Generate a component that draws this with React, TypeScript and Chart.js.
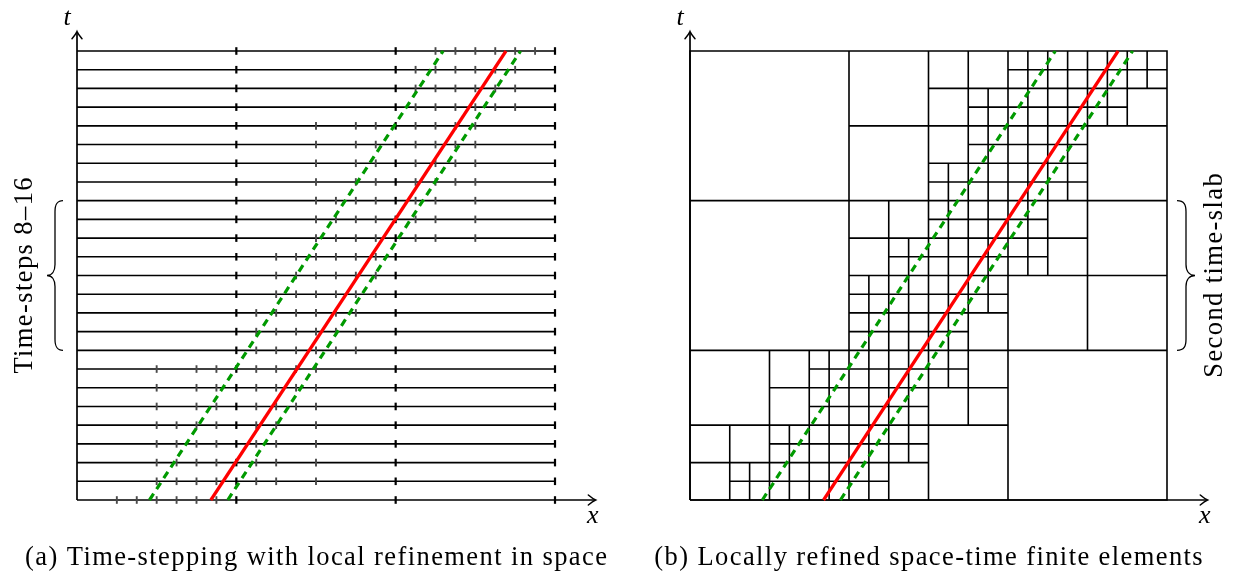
import React, { useEffect, useRef } from "react";
import { Chart, registerables } from "chart.js";

Chart.register(...registerables);

// ---------------- data (x in space cells, t in time-steps) ----------------
const X_MAX = 24;
const T_MAX = 24;
const AXIS_X_END = 26;
const AXIS_T_END = 25;

const TIME_LEVELS = [0, 1, 2, 3, 4, 5, 6, 7, 8, 9, 10, 11, 12, 13, 14, 15, 16, 17, 18, 19, 20, 21, 22, 23, 24];
const COARSE_NODES = [8, 16, 24];
// refined spatial nodes on each time level (index = time level)
const FINE_NODES: number[][] = [
  [2, 3, 4, 5, 6, 7],
  [4, 5, 6, 7, 9, 10, 12],
  [4, 5, 6, 7, 9, 10, 12],
  [4, 5, 6, 7, 9, 10, 12],
  [4, 5, 6, 7, 9, 10, 12],
  [4, 6, 7, 9, 10, 11, 12],
  [4, 6, 7, 9, 10, 11, 12],
  [4, 6, 7, 9, 10, 11, 12],
  [9, 10, 11, 12, 13, 14],
  [9, 10, 11, 12, 13, 14],
  [9, 10, 11, 12, 13, 14],
  [10, 11, 12, 13, 14, 15],
  [10, 11, 12, 13, 14, 15],
  [10, 11, 12, 13, 14, 15],
  [12, 13, 14, 15, 17, 18, 20],
  [12, 13, 14, 15, 17, 18, 20],
  [12, 13, 14, 15, 17, 18, 20],
  [12, 14, 15, 17, 18, 19, 20],
  [12, 14, 15, 17, 18, 19, 20],
  [12, 14, 15, 17, 18, 19, 20],
  [12, 14, 15, 17, 18, 19, 20],
  [17, 18, 19, 20, 21, 22],
  [17, 18, 19, 20, 21, 22],
  [17, 18, 19, 20, 21, 22],
  [18, 19, 20, 21, 22, 23],
];

// front (red) and refinement band (green dashed): x at t = 0 and t = 24
const LINE_T = [0, 24];
const FRONT_X = [6.72, 21.54];
const BAND_LEFT_X = [3.64, 18.38];
const BAND_RIGHT_X = [7.57, 22.27];

// space-time cells [x, t] by size
const CELLS_8 = [[16, 0], [0, 8], [0, 16]];
const CELLS_4 = [[0, 4], [12, 0], [16, 8], [20, 8], [20, 12], [8, 16], [8, 20], [20, 16]];
const CELLS_2 = [
  [0, 0], [10, 0], [0, 2], [2, 2], [4, 4], [4, 6], [12, 4], [14, 4], [14, 6], [14, 8],
  [8, 12], [8, 14], [10, 14], [18, 12], [18, 14], [12, 18], [12, 20], [12, 22], [14, 22], [22, 20],
];
// unit cells: x positions for each time row t = 0..23
const CELLS_1: number[][] = [
  [2, 3, 4, 5, 6, 7, 8, 9],
  [2, 3, 4, 5, 6, 7, 8, 9],
  [4, 5, 6, 7, 8, 9, 10, 11],
  [4, 5, 6, 7, 8, 9, 10, 11],
  [6, 7, 8, 9, 10, 11],
  [6, 7, 8, 9, 10, 11],
  [6, 7, 8, 9, 10, 11, 12, 13],
  [6, 7, 8, 9, 10, 11, 12, 13],
  [8, 9, 10, 11, 12, 13],
  [8, 9, 10, 11, 12, 13],
  [8, 9, 10, 11, 12, 13, 14, 15],
  [8, 9, 10, 11, 12, 13, 14, 15],
  [10, 11, 12, 13, 14, 15, 16, 17],
  [10, 11, 12, 13, 14, 15, 16, 17],
  [12, 13, 14, 15, 16, 17],
  [12, 13, 14, 15, 16, 17],
  [12, 13, 14, 15, 16, 17, 18, 19],
  [12, 13, 14, 15, 16, 17, 18, 19],
  [14, 15, 16, 17, 18, 19],
  [14, 15, 16, 17, 18, 19],
  [14, 15, 16, 17, 18, 19, 20, 21],
  [14, 15, 16, 17, 18, 19, 20, 21],
  [16, 17, 18, 19, 20, 21, 22, 23],
  [16, 17, 18, 19, 20, 21, 22, 23],
];

const BRACE_T = [8, 16];
const CAPTION_A = "(a) Time-stepping with local refinement in space";
const CAPTION_B = "(b) Locally refined space-time finite elements";
const BRACE_LABEL_A = "Time-steps 8\u201316";
const BRACE_LABEL_B = "Second time-slab";

// ---------------- styling ----------------
const RED = "#ff0000";
const GREEN = "#009a00";
const SERIF = '"Liberation Serif", "DejaVu Serif", serif';
const TEXT_SIZE = 26.5;
const ITALIC = 'italic 26px "Liberation Serif", serif';

type P = { x: number; y: number };
const GAP: P = { x: NaN, y: NaN };

function lineDs(data: P[], color: string, width: number, dash: number[] = []): any {
  return {
    data,
    showLine: true,
    borderColor: color,
    borderWidth: width,
    borderDash: dash,
    borderCapStyle: "butt",
    borderJoinStyle: "miter",
    pointRadius: 0,
    pointHoverRadius: 0,
    fill: false,
    tension: 0,
    spanGaps: false,
    clip: false,
  };
}

function frontDatasets(): any[] {
  const mk = (xs: number[]) => xs.map((x, i) => ({ x, y: LINE_T[i] }));
  return [
    lineDs(mk(FRONT_X), RED, 3.2),
    lineDs(mk(BAND_LEFT_X), GREEN, 3.2, [7.5, 5.5]),
    lineDs(mk(BAND_RIGHT_X), GREEN, 3.2, [7.5, 5.5]),
  ];
}

function axisDatasets(): any[] {
  return [
    lineDs([{ x: 0, y: 0 }, { x: AXIS_X_END, y: 0 }], "#000", 1.7),
    lineDs([{ x: 0, y: 0 }, { x: 0, y: AXIS_T_END }], "#000", 1.7),
  ];
}

function arrowHead(ctx: CanvasRenderingContext2D, x: number, y: number, ang: number) {
  ctx.save();
  ctx.translate(x, y);
  ctx.rotate(ang);
  ctx.beginPath();
  ctx.moveTo(-6.5, -5);
  ctx.quadraticCurveTo(-2, -1.2, 0.8, 0);
  ctx.quadraticCurveTo(-2, 1.2, -6.5, 5);
  ctx.lineWidth = 1.5;
  ctx.strokeStyle = "#000";
  ctx.lineCap = "round";
  ctx.stroke();
  ctx.restore();
}

function brace(ctx: CanvasRenderingContext2D, x: number, yTop: number, yBot: number, w: number) {
  const h = w / 2;
  const ym = (yTop + yBot) / 2;
  ctx.save();
  ctx.beginPath();
  ctx.moveTo(x, yTop);
  ctx.bezierCurveTo(x + h * 0.8, yTop, x + h, yTop + 4, x + h, yTop + 11);
  ctx.lineTo(x + h, ym - 11);
  ctx.bezierCurveTo(x + h, ym - 4, x + h * 1.4, ym, x + w, ym);
  ctx.bezierCurveTo(x + h * 1.4, ym, x + h, ym + 4, x + h, ym + 11);
  ctx.lineTo(x + h, yBot - 11);
  ctx.bezierCurveTo(x + h, yBot - 4, x + h * 0.8, yBot, x, yBot);
  ctx.lineWidth = 1.3;
  ctx.strokeStyle = "#000";
  ctx.stroke();
  ctx.restore();
}

// letter spacing so that the caption-a text spans the reference width
function spacingFor(ctx: CanvasRenderingContext2D, text: string, target: number): number {
  (ctx as any).letterSpacing = "0px";
  ctx.font = `${TEXT_SIZE}px ${SERIF}`;
  const w = ctx.measureText(text).width;
  return Math.max(0, Math.min(2, (target - w) / (text.length - 1)));
}

function decorPlugin(panel: "a" | "b"): any {
  return {
    id: "decor" + panel,
    afterDatasetsDraw(chart: any) {
      const { ctx, scales } = chart;
      const sx = scales.x;
      const sy = scales.y;
      const x0 = sx.getPixelForValue(0);
      const y0 = sy.getPixelForValue(0);
      const xEnd = sx.getPixelForValue(AXIS_X_END);
      const yEnd = sy.getPixelForValue(AXIS_T_END);
      arrowHead(ctx, xEnd, y0, 0);
      arrowHead(ctx, x0, yEnd, -Math.PI / 2);

      ctx.save();
      ctx.fillStyle = "#000";
      ctx.font = ITALIC;
      ctx.textAlign = "center";
      ctx.textBaseline = "alphabetic";
      ctx.fillText("t", x0 - 10, yEnd - 7);
      ctx.fillText("x", xEnd - 2, y0 + 23);

      // caption
      const ls = spacingFor(ctx, CAPTION_A, 582);
      const cap = panel === "a" ? CAPTION_A : CAPTION_B;
      const cx = (sx.getPixelForValue(0) + sx.getPixelForValue(X_MAX)) / 2;
      ctx.font = `${TEXT_SIZE}px ${SERIF}`;
      (ctx as any).letterSpacing = `${ls.toFixed(2)}px`;
      ctx.fillText(cap, cx + ls / 2, y0 + 65);

      // brace + label
      const yTop = sy.getPixelForValue(BRACE_T[1]);
      const yBot = sy.getPixelForValue(BRACE_T[0]);
      const ym = (yTop + yBot) / 2;
      const label = panel === "a" ? BRACE_LABEL_A : BRACE_LABEL_B;
      const xr = sx.getPixelForValue(X_MAX);
      if (panel === "a") {
        brace(ctx, x0 - 14, yTop, yBot, -16);
      } else {
        brace(ctx, xr + 10, yTop, yBot, 18);
      }
      ctx.translate(panel === "a" ? x0 - 52 : xr + 48, ym);
      ctx.rotate(-Math.PI / 2);
      ctx.textBaseline = "middle";
      ctx.fillText(label, ls / 2, 0);
      (ctx as any).letterSpacing = "0px";
      ctx.restore();
    },
  };
}

function baseOptions(padRight: number): any {
  return {
    animation: false,
    responsive: false,
    maintainAspectRatio: false,
    events: [],
    layout: { padding: { left: 77, right: padRight, top: 51, bottom: 75 } },
    scales: {
      x: { type: "linear", min: 0, max: X_MAX, display: false },
      y: { type: "linear", min: 0, max: T_MAX, display: false },
    },
    plugins: { legend: { display: false }, tooltip: { enabled: false }, title: { display: false } },
  };
}

function leftConfig(): any {
  const grid: P[] = [];
  TIME_LEVELS.filter((t) => t > 0).forEach((t) => {
    grid.push({ x: 0, y: t }, { x: X_MAX, y: t }, GAP);
  });
  const coarse: P[] = [];
  const fine: P[] = [];
  TIME_LEVELS.forEach((t, i) => {
    COARSE_NODES.forEach((x) => coarse.push({ x, y: t }));
    FINE_NODES[i].forEach((x) => fine.push({ x, y: t }));
  });
  const tickDs = (data: P[], color: string, w: number) => ({
    data,
    showLine: false,
    clip: false,
    pointStyle: "line",
    rotation: 90,
    pointRadius: 3.8,
    pointHoverRadius: 3.8,
    pointBorderWidth: w,
    borderWidth: w,
    pointBorderColor: color,
    borderColor: color,
    backgroundColor: color,
  });
  return {
    type: "scatter",
    data: {
      datasets: [
        ...frontDatasets(),
        tickDs(coarse, "#000", 2.2),
        tickDs(fine, "#4a4a4a", 1.9),
        lineDs(grid, "#000", 1.6),
        ...axisDatasets(),
      ],
    },
    options: baseOptions(58),
    plugins: [decorPlugin("a")],
  };
}

function rightConfig(): any {
  const cells: P[] = [];
  const add = (x: number, t: number, s: number) => {
    cells.push({ x, y: t }, { x: x + s, y: t }, { x: x + s, y: t + s }, { x, y: t + s }, { x, y: t }, GAP);
  };
  CELLS_8.forEach(([x, t]) => add(x, t, 8));
  CELLS_4.forEach(([x, t]) => add(x, t, 4));
  CELLS_2.forEach(([x, t]) => add(x, t, 2));
  CELLS_1.forEach((xs, t) => xs.forEach((x) => add(x, t, 1)));
  return {
    type: "scatter",
    data: {
      datasets: [...frontDatasets(), lineDs(cells, "#000", 1.6), ...axisDatasets()],
    },
    options: baseOptions(72),
    plugins: [decorPlugin("b")],
  };
}

function Panel({ config, left, width }: { config: () => any; left: number; width: number }) {
  const ref = useRef<HTMLCanvasElement | null>(null);
  useEffect(() => {
    if (!ref.current) return;
    const chart = new Chart(ref.current, config());
    return () => chart.destroy();
  }, [config]);
  return (
    <canvas
      ref={ref}
      width={width}
      height={575}
      style={{ position: "absolute", left, top: 0, width, height: 575, display: "block" }}
    />
  );
}

export default function App() {
  return (
    <div style={{ position: "absolute", left: 0, top: 0, width: 1239, height: 575, background: "#fff" }}>
      <Panel config={leftConfig} left={0} width={613} />
      <Panel config={rightConfig} left={613} width={626} />
    </div>
  );
}
